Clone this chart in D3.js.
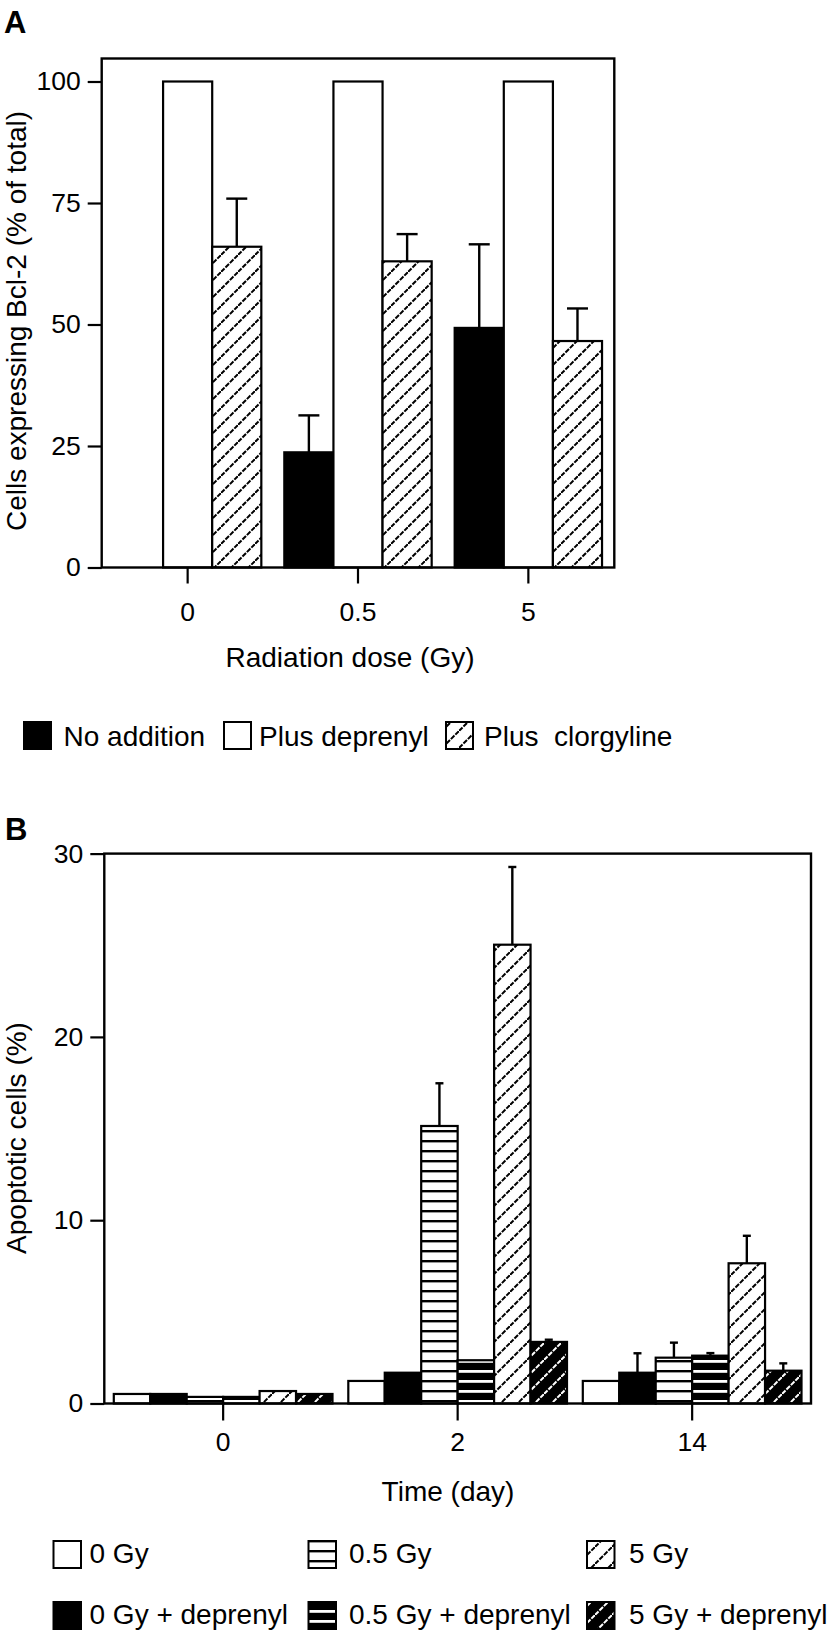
<!DOCTYPE html>
<html>
<head>
<meta charset="utf-8">
<script src="https://cdn.jsdelivr.net/npm/d3@7"></script>
<style>
  html, body { margin: 0; padding: 0; background: #fff; }
  svg { display: block; }
  text { font-family: "Liberation Sans", Arial, Helvetica, sans-serif; fill: #000; }
</style>
</head>
<body>
<div id="chart"></div>
<script>
// ---------- Panel A data ----------
const doseLabels = ["0", "0.5", "5"];
const seriesA = ["No addition", "Plus deprenyl", "Plus  clorgyline"];
const noAddition = [0, 23.7, 49.3];
const noAdditionErr = [0, 7.6, 17.2];
const plusDeprenyl = [100, 100, 100];
const plusDeprenylErr = [0, 0, 0];
const plusClorgyline = [66.0, 63.0, 46.6];
const plusClorgylineErr = [9.9, 5.6, 6.7];
const yTicksA = [0, 25, 50, 75, 100];

// ---------- Panel B data ----------
const dayLabels = ["0", "2", "14"];
const seriesB = ["0 Gy", "0 Gy + deprenyl", "0.5 Gy", "0.5 Gy + deprenyl", "5 Gy", "5 Gy + deprenyl"];
const gy0 = [0.52, 1.23, 1.23];
const gy0Err = [0, 0, 0];
const gy0Dep = [0.52, 1.68, 1.68];
const gy0DepErr = [0, 0, 1.06];
const gy05 = [0.36, 15.14, 2.5];
const gy05Err = [0, 2.33, 0.82];
const gy05Dep = [0.36, 2.36, 2.61];
const gy05DepErr = [0, 0, 0.14];
const gy5 = [0.68, 25.03, 7.65];
const gy5Err = [0, 4.24, 1.5];
const gy5Dep = [0.52, 3.36, 1.79];
const gy5DepErr = [0, 0.12, 0.4];
const yTicksB = [0, 10, 20, 30];

const W = 829, H = 1632;
const svg = d3.select("#chart").append("svg").attr("width", W).attr("height", H);
const defs = svg.append("defs");

// patterns
function diagPattern(id, bg, fg) {
  const p = defs.append("pattern").attr("id", id).attr("patternUnits", "userSpaceOnUse")
    .attr("width", 17).attr("height", 17);
  p.append("rect").attr("width", 17).attr("height", 17).attr("fill", bg);
  p.append("path").attr("d", "M-4,4 L4,-4 M0,17 L17,0 M13,21 L21,13")
    .attr("stroke", fg).attr("stroke-width", 2).attr("stroke-dasharray", "5 1.3");
}
diagPattern("hatch", "#fff", "#000");
diagPattern("hatchDark", "#000", "#fff");
function hPattern(id, bg, fg, lw) {
  const p = defs.append("pattern").attr("id", id).attr("patternUnits", "userSpaceOnUse")
    .attr("width", 10).attr("height", 10);
  p.append("rect").attr("width", 10).attr("height", 10).attr("fill", bg);
  p.append("rect").attr("y", 0).attr("width", 10).attr("height", lw).attr("fill", fg);
}
hPattern("hlines", "#fff", "#000", 2.4);
hPattern("hlinesDark", "#000", "#fff", 2.8);

const fillsA = ["#000", "#fff", "url(#hatch)"];
const fillsB = ["#fff", "#000", "url(#hlines)", "url(#hlinesDark)", "url(#hatch)", "url(#hatchDark)"];

function drawBars(groups, series, vals, errs, x0, y, fills, capW) {
  const x1 = d3.scaleBand().domain(series).range([0, x0.bandwidth()]).padding(0);
  const rows = [];
  groups.forEach((g, gi) => series.forEach((s, si) => rows.push({ g, s, si, v: vals[si][gi], e: errs[si][gi] })));
  const gBars = svg.append("g");
  gBars.selectAll("rect").data(rows.filter(d => d.v > 0)).join("rect")
    .attr("x", d => x0(d.g) + x1(d.s))
    .attr("y", d => y(d.v))
    .attr("width", x1.bandwidth())
    .attr("height", d => y(0) - y(d.v))
    .attr("fill", d => fills[d.si])
    .attr("stroke", "#000").attr("stroke-width", 2.2);
  const eb = svg.append("g").attr("stroke", "#000").attr("stroke-width", 2.4);
  rows.filter(d => d.e > 0).forEach(d => {
    const cx = x0(d.g) + x1(d.s) + x1.bandwidth() / 2;
    eb.append("line").attr("x1", cx).attr("x2", cx).attr("y1", y(d.v)).attr("y2", y(d.v + d.e));
    eb.append("line").attr("x1", cx - capW / 2).attr("x2", cx + capW / 2).attr("y1", y(d.v + d.e)).attr("y2", y(d.v + d.e));
  });
}

function drawAxes(x0, y, yTicks, left, right, top, bottom, xTickLen, xPad) {
  const ya = svg.append("g").attr("transform", `translate(${left},0)`)
    .call(d3.axisLeft(y).tickValues(yTicks).tickSize(14).tickPadding(7).tickFormat(d3.format("d")));
  ya.select(".domain").remove();
  ya.selectAll(".tick line").attr("stroke", "#000").attr("stroke-width", 2.2);
  ya.selectAll(".tick text").attr("font-size", 26.5).attr("font-family", null);
  const xa = svg.append("g").attr("transform", `translate(0,${bottom})`)
    .call(d3.axisBottom(x0).tickSize(xTickLen).tickPadding(xPad));
  xa.select(".domain").remove();
  xa.selectAll(".tick line").attr("stroke", "#000").attr("stroke-width", 2.2);
  xa.selectAll(".tick text").attr("font-size", 26.5).attr("font-family", null);
  svg.append("rect").attr("x", left).attr("y", top).attr("width", right - left).attr("height", bottom - top)
    .attr("fill", "none").attr("stroke", "#000").attr("stroke-width", 2.4);
}

// ---------- Panel A ----------
const A = { left: 101.7, right: 614.3, top: 58.5, bottom: 567.5 };
const yA = d3.scaleLinear().domain([0, 100]).range([A.bottom, 81.5]);
const xA = d3.scaleBand().domain(doseLabels).range([A.left, A.right]).paddingInner(0.135).paddingOuter(0.072);
drawBars(doseLabels, seriesA, [noAddition, plusDeprenyl, plusClorgyline],
  [noAdditionErr, plusDeprenylErr, plusClorgylineErr], xA, yA, fillsA, 21);
drawAxes(xA, yA, yTicksA, A.left, A.right, A.top, A.bottom, 16, 19);

svg.append("text").attr("x", 4).attr("y", 33).attr("font-size", 31).attr("font-weight", "bold").text("A");
svg.append("text").attr("transform", "translate(26,321) rotate(-90)").attr("text-anchor", "middle")
  .attr("font-size", 28).text("Cells expressing Bcl-2 (% of total)");
svg.append("text").attr("x", 350).attr("y", 666.5).attr("text-anchor", "middle").attr("font-size", 28)
  .text("Radiation dose (Gy)");

const legA = [{ x: 24, tx: 63.5 }, { x: 224, tx: 259 }, { x: 446, tx: 484 }];
seriesA.forEach((s, i) => {
  svg.append("rect").attr("x", legA[i].x).attr("y", 722).attr("width", 27).attr("height", 27)
    .attr("fill", fillsA[i]).attr("stroke", "#000").attr("stroke-width", 2);
  svg.append("text").attr("x", legA[i].tx).attr("y", 745.5).attr("font-size", 28)
    .style("white-space", "pre").text(s);
});

// ---------- Panel B ----------
const B = { left: 104.3, right: 811, top: 853.6, bottom: 1403.5 };
const yB = d3.scaleLinear().domain([0, 30]).range([B.bottom, B.top]);
const xB = d3.scaleBand().domain(dayLabels).range([B.left, B.right]).paddingInner(0.0674).paddingOuter(0.0405);
drawBars(dayLabels, seriesB, [gy0, gy0Dep, gy05, gy05Dep, gy5, gy5Dep],
  [gy0Err, gy0DepErr, gy05Err, gy05DepErr, gy5Err, gy5DepErr], xB, yB, fillsB, 8);
drawAxes(xB, yB, yTicksB, B.left, B.right, B.top, B.bottom, 17, 12);

svg.append("text").attr("x", 5).attr("y", 840).attr("font-size", 31).attr("font-weight", "bold").text("B");
svg.append("text").attr("transform", "translate(26,1138) rotate(-90)").attr("text-anchor", "middle")
  .attr("font-size", 28).text("Apoptotic cells (%)");
svg.append("text").attr("x", 448).attr("y", 1501).attr("text-anchor", "middle").attr("font-size", 28)
  .text("Time (day)");

const legBOrder = [0, 2, 4, 1, 3, 5];
const legBx = [{ x: 53.5, tx: 89.5 }, { x: 308.5, tx: 349 }, { x: 587, tx: 629 }];
legBOrder.forEach((si, k) => {
  const col = k % 3, row = Math.floor(k / 3);
  const yy = row === 0 ? 1541 : 1602;
  svg.append("rect").attr("x", legBx[col].x).attr("y", yy).attr("width", 27.5).attr("height", 27)
    .attr("fill", fillsB[si]).attr("stroke", "#000").attr("stroke-width", 2);
  svg.append("text").attr("x", legBx[col].tx).attr("y", yy + 22).attr("font-size", 28).text(seriesB[si]);
});
</script>
</body>
</html>
